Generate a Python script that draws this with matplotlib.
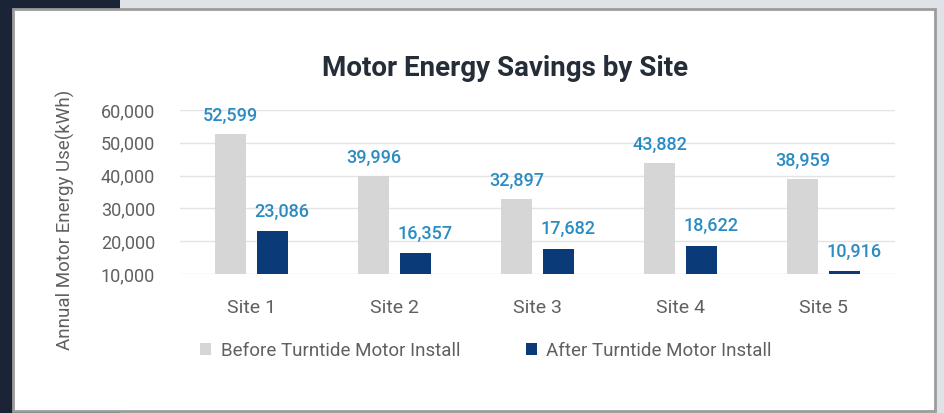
import numpy as np
import matplotlib
matplotlib.use("Agg")
import matplotlib.pyplot as plt
from matplotlib.patches import Rectangle

plt.rcParams["font.family"] = ["Roboto", "DejaVu Sans"]

sites = ["Site 1", "Site 2", "Site 3", "Site 4", "Site 5"]
before = [52599, 39996, 32897, 43882, 38959]
after = [23086, 16357, 17682, 18622, 10916]
series_names = ["Before Turntide Motor Install", "After Turntide Motor Install"]
y_ticks = [10000, 20000, 30000, 40000, 50000, 60000]

W, H = 945, 413
BEFORE_C = "#d6d6d6"
AFTER_C = "#0b3a78"
LABEL_C = "#2b8bc3"
TICK_C = "#606060"

fig = plt.figure(figsize=(W / 100, H / 100), dpi=100)
fig.patch.set_facecolor("#1b2436")

# backdrop pieces: gray pattern area and the white card
fig.patches.append(Rectangle((120 / W, 0), 1 - 120 / W, 1, transform=fig.transFigure,
                             facecolor="#dfe2e6", edgecolor="none", zorder=-3))
fig.patches.append(Rectangle((13 / W, 1 - 411 / H), (935 - 13) / W, (411 - 9) / H,
                             transform=fig.transFigure, facecolor="white",
                             edgecolor="#9c9c9c", lw=2, zorder=-2))

ax = fig.add_axes([180 / W, 1 - 274 / H, 715 / W, 164 / H])
ax.set_facecolor("none")

x = np.arange(len(sites))
bw = 0.22
off = 0.147
b1 = ax.bar(x - off, [v - y_ticks[0] for v in before], bw, bottom=y_ticks[0],
            color=BEFORE_C, label=series_names[0], zorder=3)
b2 = ax.bar(x + off, [v - y_ticks[0] for v in after], bw, bottom=y_ticks[0],
            color=AFTER_C, label=series_names[1], zorder=3)

for xi, v in zip(x, before):
    ax.annotate(f"{v:,}", (xi - off, v), xytext=(0, 13), textcoords="offset points",
                ha="center", va="center", color=LABEL_C, fontsize=13,
                fontweight="medium", annotation_clip=False)
for xi, v in zip(x, after):
    ax.annotate(f"{v:,}", (xi + off, v), xytext=(7, 14), textcoords="offset points",
                ha="center", va="center", color=LABEL_C, fontsize=13,
                fontweight="medium", annotation_clip=False)

ax.set_xlim(-0.5, len(sites) - 0.5)
ax.set_ylim(y_ticks[0], y_ticks[-1])
ax.set_yticks(y_ticks)
ax.set_yticklabels([f"{t:,}" for t in y_ticks])
ax.set_xticks(x)
ax.set_xticklabels(sites)
ax.tick_params(axis="y", length=0, pad=18, labelsize=13, labelcolor=TICK_C)
ax.tick_params(axis="x", length=0, pad=18, labelsize=14, labelcolor=TICK_C)
ax.yaxis.grid(True, color="#e4e4e4", lw=1, zorder=0)
ax.set_axisbelow(True)
for s in ax.spines.values():
    s.set_visible(False)

fig.text(505 / W, 1 - 68 / H, "Motor Energy Savings by Site", ha="center", va="center",
         fontsize=20, fontweight="bold", color="#252d38")
fig.text(65 / W, 1 - 220 / H, "Annual Motor Energy Use(kWh)", rotation=90,
         ha="center", va="center", fontsize=13.5, color=TICK_C)

fig.legend(handles=[b1, b2], labels=series_names, loc="center", ncol=2,
           bbox_to_anchor=(486 / W, 1 - 351 / H), frameon=False, fontsize=13.5,
           labelcolor=TICK_C, handlelength=0.6, handleheight=0.6,
           handletextpad=0.5, columnspacing=3.5)

fig.savefig("out.png", dpi=100, facecolor=fig.get_facecolor())
